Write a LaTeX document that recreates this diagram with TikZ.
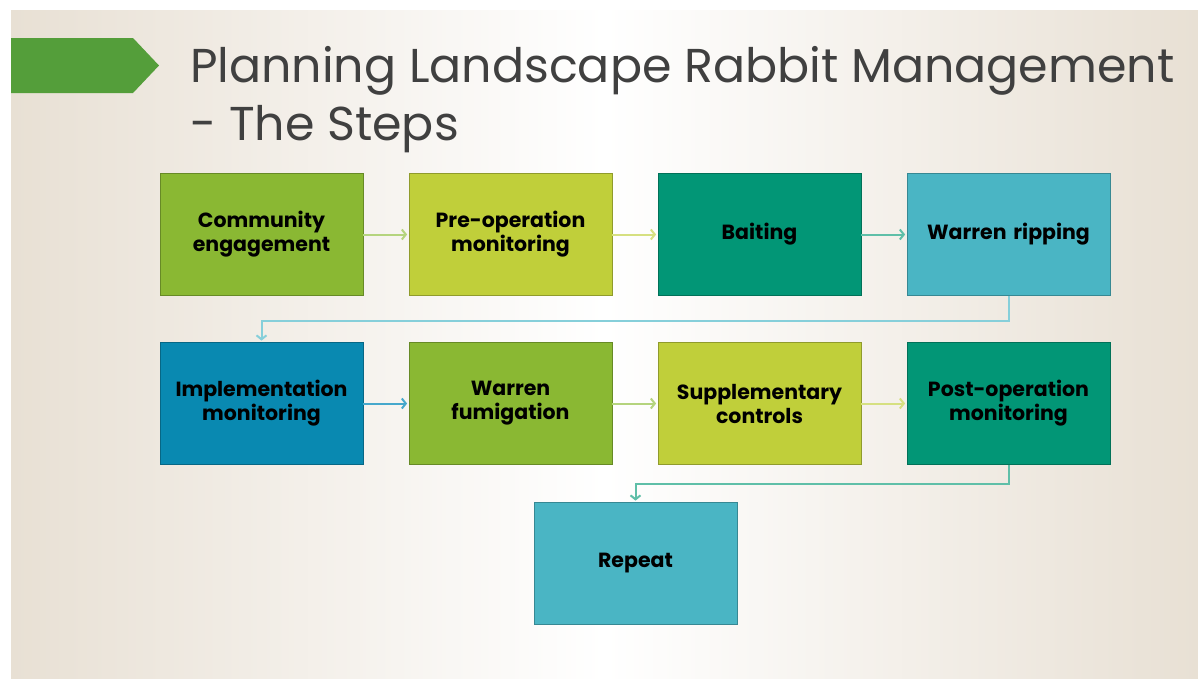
\documentclass[tikz,border=0pt]{standalone}
\usepackage{fontspec}
\setmainfont{Poppins}
\usetikzlibrary{arrows.meta}
\definecolor{cGreen}{HTML}{8AB833}
\definecolor{cLime}{HTML}{C0CF3A}
\definecolor{cTeal}{HTML}{029676}
\definecolor{cAqua}{HTML}{4AB5C4}
\definecolor{cBlue}{HTML}{0989B1}
\definecolor{aGreen}{HTML}{B5D47E}
\definecolor{aLime}{HTML}{D6E081}
\definecolor{aTeal}{HTML}{5FBFA8}
\definecolor{aAqua}{HTML}{86CFDA}
\definecolor{aBlue}{HTML}{46A8CC}
\definecolor{bgOut}{HTML}{E8E0D4}
\definecolor{banner}{HTML}{549E3A}
\definecolor{titleGray}{HTML}{404040}
\tikzset{
  stepbox/.style={draw=#1!75!black, fill=#1, line width=0.8pt,
    minimum width=203pt, minimum height=122pt, inner sep=0pt,
    text width=200pt, align=center, text=black,
    font=\bfseries\fontsize{20.5}{24}\selectfont},
  conn/.style={draw=#1, line width=2pt, shorten >=1.5pt,
    -{Straight Barb[length=4pt,width=10pt]}},
  titletext/.style={anchor=base west, inner sep=0pt, text=titleGray,
    font=\fontsize{47.5}{58}\selectfont}
}
\begin{document}
\begin{tikzpicture}[x=1pt,y=-1pt]
\useasboundingbox (0,0) rectangle (1198,678);
\fill[white] (0,0) rectangle (1198,678);
\shade[left color=bgOut, right color=bgOut, middle color=white] (11,10) rectangle (1198,678);
\fill[banner] (11,38) -- (133,38) -- (159,65.5) -- (133,93) -- (11,93) -- cycle;
\node[titletext] (t1) at (190,82) {Planning Landscape Rabbit Management};
\node[titletext] (t2) at (190,140) {- The Steps};

\node[stepbox=cGreen] (b1) at (261.5,234.5) {Community\\engagement};
\node[stepbox=cLime]  (b2) at (510.5,234.5) {Pre-operation\\monitoring};
\node[stepbox=cTeal]  (b3) at (759.5,234.5) {Baiting};
\node[stepbox=cAqua]  (b4) at (1008.5,234.5) {Warren ripping};
\node[stepbox=cBlue]  (b5) at (261.5,403.5) {Implementation\\monitoring};
\node[stepbox=cGreen] (b6) at (510.5,403.5) {Warren\\fumigation};
\node[stepbox=cLime]  (b7) at (759.5,403.5) {Supplementary\\controls};
\node[stepbox=cTeal]  (b8) at (1008.5,403.5) {Post-operation\\monitoring};
\node[stepbox=cAqua]  (b9) at (635.5,563.5) {Repeat};

\draw[conn=aGreen] (b1.east) -- (b2.west);
\draw[conn=aLime]  (b2.east) -- (b3.west);
\draw[conn=aTeal]  (b3.east) -- (b4.west);
\draw[conn=aAqua]  (b4.south) -- ++(0,25) -| (b5.north);
\draw[conn=aBlue]  (b5.east) -- (b6.west);
\draw[conn=aGreen] (b6.east) -- (b7.west);
\draw[conn=aLime]  (b7.east) -- (b8.west);
\draw[conn=aTeal]  (b8.south) -- ++(0,19) -| (b9.north);
\end{tikzpicture}
\end{document}
